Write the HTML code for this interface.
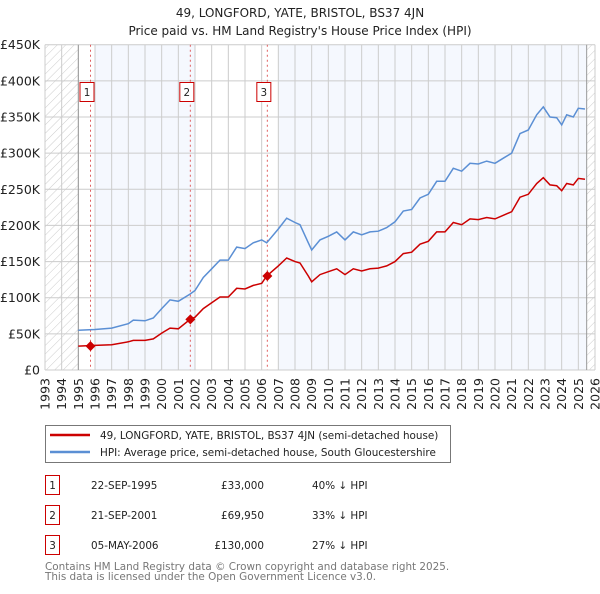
<!DOCTYPE html>
<html><head><meta charset="utf-8"><style>
body{margin:0;background:#fff;width:600px;height:590px;overflow:hidden;font-family:"DejaVu Sans","Liberation Sans",sans-serif}
svg text{font-family:"DejaVu Sans","Liberation Sans",sans-serif}
</style></head><body>
<svg id="c" width="600" height="590">
<defs><pattern id="hatch" width="6" height="6" patternUnits="userSpaceOnUse" patternTransform="rotate(45)"><rect width="6" height="6" fill="#fff"/><line x1="0" y1="0" x2="0" y2="6" stroke="#ccc" stroke-width="1"/></pattern></defs>
<text x="300" y="17" text-anchor="middle" font-size="12" fill="#222">49, LONGFORD, YATE, BRISTOL, BS37 4JN</text>
<text x="300" y="35" text-anchor="middle" font-size="12" fill="#222">Price paid vs. HM Land Registry's House Price Index (HPI)</text>
<g id="plot"></g>
<g>
<rect x="45.5" y="425.5" width="405" height="37" fill="#fff" stroke="#777"/>
<line x1="50" y1="435" x2="90" y2="435" stroke="#cc0000" stroke-width="2.5"/>
<text x="100" y="439" font-size="10.4" fill="#222">49, LONGFORD, YATE, BRISTOL, BS37 4JN (semi-detached house)</text>
<line x1="50" y1="452" x2="90" y2="452" stroke="#5b8fd4" stroke-width="2.5"/>
<text x="100" y="456" font-size="10.4" fill="#222">HPI: Average price, semi-detached house, South Gloucestershire</text>
</g>
<g font-size="10.4" fill="#222">
<rect x="45.5" y="475.5" width="14" height="19" fill="#fff" stroke="#cc0000"/><text x="52.5" y="489" text-anchor="middle">1</text>
<text x="91" y="489">22-SEP-1995</text><text x="264" y="489" text-anchor="end">£33,000</text><text x="312" y="489">40% ↓ HPI</text>
<rect x="45.5" y="505.5" width="14" height="19" fill="#fff" stroke="#cc0000"/><text x="52.5" y="519" text-anchor="middle">2</text>
<text x="91" y="519">21-SEP-2001</text><text x="264" y="519" text-anchor="end">£69,950</text><text x="312" y="519">33% ↓ HPI</text>
<rect x="45.5" y="535.5" width="14" height="19" fill="#fff" stroke="#cc0000"/><text x="52.5" y="549" text-anchor="middle">3</text>
<text x="91" y="549">05-MAY-2006</text><text x="264" y="549" text-anchor="end">£130,000</text><text x="312" y="549">27% ↓ HPI</text>
</g>
<text x="45" y="570" font-size="10.4" fill="#777">Contains HM Land Registry data © Crown copyright and database right 2025.</text>
<text x="45" y="580" font-size="10.4" fill="#777">This data is licensed under the Open Government Licence v3.0.</text>
</svg>
<script>
const hpiYears=[1995,1996,1997,1998,1998.3,1999,1999.5,2000,2000.5,2001,2001.7,2002,2002.5,2003,2003.5,2004,2004.5,2005,2005.5,2006,2006.3,2007,2007.5,2008,2008.3,2008.8,2009,2009.5,2010,2010.5,2011,2011.5,2012,2012.5,2013,2013.5,2014,2014.5,2015,2015.5,2016,2016.5,2017,2017.5,2018,2018.5,2019,2019.5,2020,2020.5,2021,2021.5,2022,2022.5,2022.9,2023.3,2023.7,2024,2024.3,2024.7,2025,2025.4];
const hpiValues=[55,56,58,64,69,68,72,85,97,95,105,110,128,140,152,152,170,168,176,180,176,195,210,204,201,176,166,180,185,191,180,191,187,191,192,197,205,220,222,238,243,261,261,279,275,286,285,289,286,293,300,327,332,353,364,350,349,339,353,350,362,361];
const propValues=[33,34,35,39,41,41,43,51,58,57,70,73,85,93,101,101,113,112,117,120,130,144,155,150,148,130,122,132,136,140,132,140,137,140,141,144,150,161,163,174,178,191,191,204,201,209,208,211,209,214,219,239,243,258,266,256,255,248,258,256,265,264];
const saleYears=[1995.73,2001.72,2006.34];
const salePrices=[33,69.95,130];
const yTicks=[0,50,100,150,200,250,300,350,400,450];
const yTickLabels=["£0","£50K","£100K","£150K","£200K","£250K","£300K","£350K","£400K","£450K"];
const xTicks=[1993,1994,1995,1996,1997,1998,1999,2000,2001,2002,2003,2004,2005,2006,2007,2008,2009,2010,2011,2012,2013,2014,2015,2016,2017,2018,2019,2020,2021,2022,2023,2024,2025,2026];
const L=45,R=595,T=44.7,B=370;
const xs=y=>L+(y-1993)/33*(R-L);
const ys=v=>B-v/450*(B-T);
const g=document.getElementById('plot');
const NS='http://www.w3.org/2000/svg';
function mk(t,a){const e=document.createElementNS(NS,t);for(const k in a)e.setAttribute(k,a[k]);g.appendChild(e);return e;}
let e;
e=mk('rect',{x:L,y:T,width:R-L,height:B-T,fill:'#fff'});


[[1996,2002],[2007,2025.5]].forEach(b=>{e=mk('rect',{x:xs(b[0]),y:T,width:xs(b[1])-xs(b[0]),height:B-T,fill:'#f5f8fe'});

});
e=mk('rect',{x:L,y:T,width:xs(1995)-L,height:B-T,fill:'url(#hatch)'});


e=mk('rect',{x:xs(2025.5),y:T,width:R-xs(2025.5),height:B-T,fill:'url(#hatch)'});


xTicks.forEach(t=>{e=mk('line',{x1:xs(t),x2:xs(t),y1:T,y2:B,stroke:'#ccc','stroke-width':1});


e=mk('text',{transform:`translate(${xs(t)+4.5},378) rotate(-90)`,'text-anchor':'end','font-size':12.5,fill:'#222'});e.textContent=t;

});
yTicks.forEach((t,i)=>{e=mk('line',{x1:L,x2:R,y1:ys(t),y2:ys(t),stroke:'#ccc','stroke-width':1});


e=mk('text',{x:L-5,y:ys(t)+4.5,'text-anchor':'end','font-size':12.5,fill:'#222'});e.textContent=yTickLabels[i];

});
e=mk('line',{x1:xs(1995),x2:xs(1995),y1:T,y2:B,stroke:'#999'});


e=mk('line',{x1:xs(2025.5),x2:xs(2025.5),y1:T,y2:B,stroke:'#999'});


saleYears.forEach((s,i)=>{e=mk('line',{x1:xs(s),x2:xs(s),y1:T,y2:B,stroke:'#e06060','stroke-dasharray':'2,3'});


e=mk('rect',{x:xs(s)-10.5,y:82.5,width:14,height:19,fill:'#fff',stroke:'#cc0000'});


e=mk('text',{x:xs(s)-3.5,y:96,'text-anchor':'middle','font-size':10.4,fill:'#222'});e.textContent=i+1;

});
const pts=(v)=>hpiYears.map((y,i)=>xs(y).toFixed(1)+','+ys(v[i]).toFixed(1)).join(' ');
e=mk('polyline',{points:pts(hpiValues),fill:'none',stroke:'#5b8fd4','stroke-width':1.5});


e=mk('polyline',{points:pts(propValues),fill:'none',stroke:'#cc0000','stroke-width':1.5});


saleYears.forEach((s,i)=>{const x=xs(s),y=ys(salePrices[i]);
e=mk('polygon',{points:`${x},${y-5} ${x+5},${y} ${x},${y+5} ${x-5},${y}`,fill:'#cc0000'});

});
</script>
</body></html>
